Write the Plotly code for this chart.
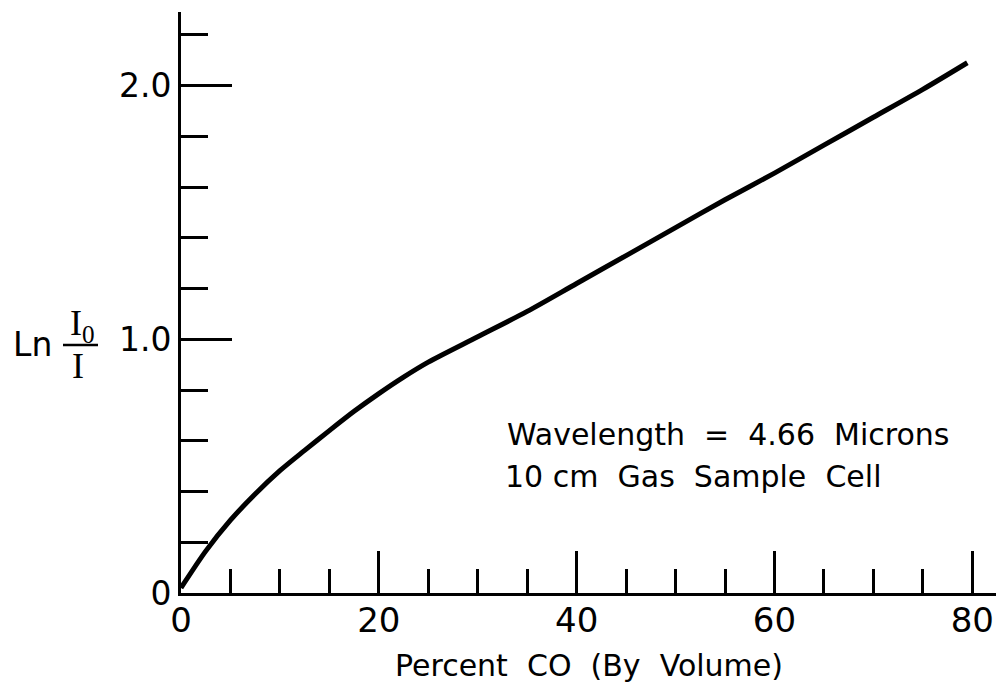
import plotly.graph_objects as go

percent_co = [0, 2.5, 5, 7.5, 10, 12.5, 15, 17.5, 20, 22.5, 25, 30, 35, 40, 45, 50, 55, 60, 65, 70, 75, 79.5]
ln_ratio = [0.02, 0.165, 0.287, 0.39, 0.482, 0.562, 0.64, 0.716, 0.786, 0.851, 0.91, 1.01, 1.11, 1.22, 1.33, 1.44, 1.55, 1.655, 1.765, 1.875, 1.985, 2.09]

x_major = [0, 20, 40, 60, 80]
x_labels = ["0", "20", "40", "60", "80"]
y_major = [0, 1, 2]
y_labels = ["0", "1.0", "2.0"]

FONT = "DejaVu Sans"
OFF = 8  # default page body margin
W, H = 996, 680
L, R, T, B = 173, 7, 4, 95
PW, PH = W - L - R, H - T - B

fig = go.Figure()
fig.add_trace(go.Scatter(
    x=percent_co, y=ln_ratio, mode="lines",
    line=dict(color="black", width=5, shape="spline", smoothing=0.8),
    showlegend=False, hoverinfo="skip"))

fig.update_layout(
    width=W, height=H,
    margin=dict(l=L, r=R, t=T, b=B),
    paper_bgcolor="white", plot_bgcolor="white",
    font=dict(family=FONT, color="black"),
    xaxis=dict(
        range=[0, 82.5], showgrid=False, zeroline=False,
        showline=True, linecolor="black", linewidth=3,
        ticks="inside", ticklen=42, tickwidth=2.5, tickcolor="black",
        tickvals=x_major, ticktext=x_labels,
        tickfont=dict(size=34, family=FONT), ticklabelstandoff=-5,
        minor=dict(dtick=5, ticks="inside", ticklen=24, tickwidth=2.5, tickcolor="black", showgrid=False),
        title=dict(text="Percent  CO  (By  Volume)", font=dict(size=30, family=FONT), standoff=17),
    ),
    yaxis=dict(
        range=[0, 2.29], showgrid=False, zeroline=False,
        showline=True, linecolor="black", linewidth=3,
        ticks="inside", ticklen=51, tickwidth=2.5, tickcolor="black",
        tickvals=y_major, ticktext=y_labels,
        tickfont=dict(size=33, family=FONT),
        minor=dict(dtick=0.2, ticks="inside", ticklen=27, tickwidth=2.5, tickcolor="black", showgrid=False),
    ),
)

def px_x(p):
    return (p - OFF - L) / PW

def px_y(p):
    return (H - B - (p - OFF)) / PH

ann = []
ann.append(dict(text="Ln", x=px_x(32), y=px_y(344), xref="paper", yref="paper",
                showarrow=False, font=dict(size=33, family=FONT), xanchor="center", yanchor="middle"))
ann.append(dict(text="I<sub>0</sub>", x=px_x(82), y=px_y(325), xref="paper", yref="paper",
                showarrow=False, font=dict(size=36, family="Liberation Serif"), xanchor="center", yanchor="middle"))
ann.append(dict(text="I", x=px_x(78), y=px_y(366), xref="paper", yref="paper",
                showarrow=False, font=dict(size=36, family="Liberation Serif"), xanchor="center", yanchor="middle"))
ann.append(dict(text="Wavelength  =  4.66  Microns", x=px_x(505), y=px_y(434), xref="paper", yref="paper",
                showarrow=False, font=dict(size=30, family=FONT), xanchor="left", yanchor="middle"))
ann.append(dict(text="10 cm  Gas  Sample  Cell", x=px_x(503), y=px_y(476), xref="paper", yref="paper",
                showarrow=False, font=dict(size=30, family=FONT), xanchor="left", yanchor="middle"))
fig.update_layout(annotations=ann)

fig.add_shape(type="line", xref="paper", yref="paper",
              x0=px_x(63), x1=px_x(98), y0=px_y(345), y1=px_y(345),
              line=dict(color="black", width=2.5))

fig.write_html("out.html")
